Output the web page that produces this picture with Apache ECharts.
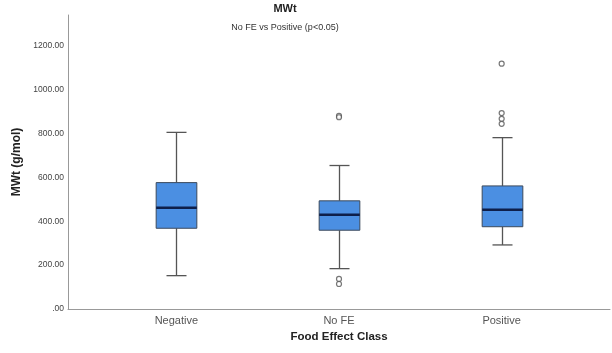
<!DOCTYPE html>
<html>
<head>
<meta charset="utf-8">
<script src="https://cdn.jsdelivr.net/npm/echarts@6/dist/echarts.min.js"></script>
<style>
  html, body { margin: 0; padding: 0; background: #fff; }
  #chart { width: 612px; height: 353px; }
</style>
</head>
<body>
<div id="chart"></div>
<script>
// Molecular weight by food effect class: box summaries and outliers
const categories = ['Negative', 'No FE', 'Positive'];
const whiskerLow = [152, 184, 292];
const q1 = [368, 359, 375];
const median = [462, 430, 452];
const q3 = [576, 493, 561];
const whiskerHigh = [805, 654, 781];
const outlierClass = [1, 1, 1, 1, 2, 2, 2, 2];
const outlierValue = [880, 874, 137, 114, 1118, 893, 867, 844];

const Y_MAX = 1340;
const FONT = 'Liberation Sans, Arial, sans-serif';

const boxData = categories.map((c, i) =>
  [i, whiskerLow[i], q1[i], median[i], q3[i], whiskerHigh[i]]);
const outlierData = outlierValue.map((v, i) => [outlierClass[i], v]);

function renderBox(params, api) {
  const x = api.value(0);
  const pLow = api.coord([x, api.value(1)]);
  const pQ1 = api.coord([x, api.value(2)]);
  const pMed = api.coord([x, api.value(3)]);
  const pQ3 = api.coord([x, api.value(4)]);
  const pHigh = api.coord([x, api.value(5)]);
  const band = api.size([1, 0])[0];
  const bw = band * 0.25;
  const cw = band * 0.123;
  const cx = Math.round(pMed[0]) + 0.5;
  const whisker = { stroke: '#555', lineWidth: 1.3 };
  return {
    type: 'group',
    children: [
      { type: 'line', shape: { x1: cx, y1: pHigh[1], x2: cx, y2: pQ3[1] }, style: whisker },
      { type: 'line', shape: { x1: cx, y1: pQ1[1], x2: cx, y2: pLow[1] }, style: whisker },
      { type: 'line', shape: { x1: cx - cw / 2, y1: pHigh[1], x2: cx + cw / 2, y2: pHigh[1] }, style: whisker },
      { type: 'line', shape: { x1: cx - cw / 2, y1: pLow[1], x2: cx + cw / 2, y2: pLow[1] }, style: whisker },
      {
        type: 'rect',
        shape: { x: cx - bw / 2, y: pQ3[1], width: bw, height: pQ1[1] - pQ3[1] },
        style: { fill: '#4b8fe2', stroke: '#3c4a5c', lineWidth: 1 }
      },
      {
        type: 'line',
        shape: { x1: cx - bw / 2, y1: pMed[1], x2: cx + bw / 2, y2: pMed[1] },
        style: { stroke: '#0e1f4a', lineWidth: 2.5 }
      }
    ]
  };
}

const chart = echarts.init(document.getElementById('chart'), null, { renderer: 'canvas' });
chart.setOption({
  animation: false,
  backgroundColor: '#fff',
  title: [
    {
      text: 'MWt', left: 285, top: 3, padding: 0, textAlign: 'center',
      textStyle: { fontFamily: FONT, fontSize: 11, fontWeight: 'bold', color: '#222' }
    },
    {
      text: 'No FE vs Positive (p<0.05)', left: 285, top: 23, padding: 0, textAlign: 'center',
      textStyle: { fontFamily: FONT, fontSize: 9, fontWeight: 'normal', color: '#333' }
    }
  ],
  grid: [
    { left: 68, right: 2, top: 15, bottom: 44 },
    { left: 95, right: 29, top: 15, bottom: 44 }
  ],
  xAxis: [
    {
      gridIndex: 0, type: 'value', min: 0, max: 1,
      axisLine: { show: true, lineStyle: { color: '#999', width: 1 } },
      axisTick: { show: false }, axisLabel: { show: false }, splitLine: { show: false }
    },
    {
      gridIndex: 1, type: 'category', data: categories,
      boundaryGap: true,
      axisLine: { show: false }, axisTick: { show: false },
      axisLabel: { margin: 6, fontFamily: FONT, fontSize: 11, color: '#555' },
      name: 'Food Effect Class', nameLocation: 'middle', nameGap: 18,
      nameTextStyle: { fontFamily: FONT, fontSize: 11.5, fontWeight: 'bold', color: '#222' }
    }
  ],
  yAxis: [
    {
      gridIndex: 0, type: 'value', min: 0, max: Y_MAX, interval: 200,
      axisLine: { show: true, lineStyle: { color: '#999', width: 1 } },
      axisTick: { show: false }, splitLine: { show: false },
      axisLabel: {
        margin: 4, fontFamily: FONT, fontSize: 8.5, color: '#444',
        formatter: v => (v % 200 !== 0 ? '' : (v === 0 ? '.00' : v.toFixed(2)))
      },
      name: 'MWt (g/mol)', nameLocation: 'middle', nameGap: 39, nameRotate: 90,
      nameTextStyle: { fontFamily: FONT, fontSize: 12, fontWeight: 'bold', color: '#222' }
    },
    {
      gridIndex: 1, type: 'value', min: 0, max: Y_MAX, show: false
    }
  ],
  series: [
    {
      type: 'custom', xAxisIndex: 1, yAxisIndex: 1,
      renderItem: renderBox,
      encode: { x: 0, y: [1, 2, 3, 4, 5] },
      data: boxData, z: 2
    },
    {
      type: 'scatter', xAxisIndex: 1, yAxisIndex: 1,
      symbol: 'circle', symbolSize: 5,
      itemStyle: { color: '#fff', borderColor: '#555', borderWidth: 1.2 },
      data: outlierData, z: 3
    }
  ]
});
</script>
</body>
</html>
